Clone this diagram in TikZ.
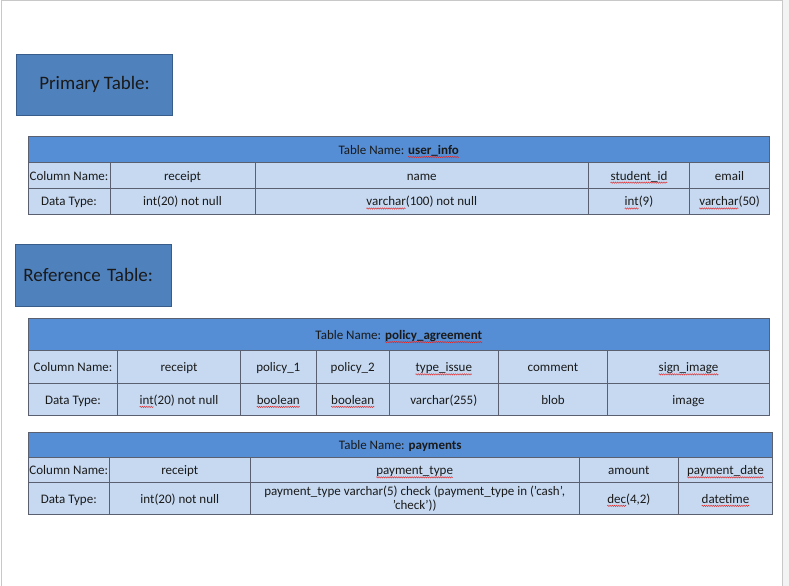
\documentclass[tikz,border=0pt]{standalone}
\usepackage{fontspec}
\setmainfont{Carlito}
\usetikzlibrary{decorations.pathmorphing}

\definecolor{boxblue}{HTML}{4F81BD}
\definecolor{boxedge}{HTML}{385D8A}
\definecolor{hdrblue}{HTML}{558ED5}
\definecolor{cellblue}{HTML}{C6D9F1}
\definecolor{gridline}{HTML}{5A6070}
\definecolor{pageedge}{HTML}{C8C8C8}
\definecolor{pageside}{HTML}{F3F3F3}
\definecolor{spellred}{HTML}{E02828}
\definecolor{inktext}{HTML}{1A1A1A}

% red wavy spell-check mark under a word
\newcommand{\sqw}[1]{\begingroup\setbox0=\hbox{#1}\edef\sqlen{\the\wd0}%
  \hbox to \wd0{\usebox0\hskip-\wd0
    \tikz[overlay,baseline=0pt]\draw[spellred,line width=0.45bp,decorate,
      decoration={zigzag,amplitude=0.7bp,segment length=2.2bp}]
      (0bp,-2.6bp) -- (\sqlen,-2.6bp);\hss}\endgroup}

% table cell: style, name, x1, x2, y1, y2, text
\newcommand{\tcell}[7]{%
  \node[#1, minimum width={(#4-#3)*1bp}, minimum height={(#6-#5)*1bp}]
    (#2) at ({(#3+#4)/2},{(#5+#6)/2}) {#7};}

\tikzset{
  labelbox/.style={fill=boxblue, draw=boxedge, line width=1bp, text=inktext,
    font=\fontsize{19bp}{22bp}\selectfont},
  hdrcell/.style={fill=hdrblue, draw=gridline, line width=0.9bp, inner sep=0pt,
    text=inktext, text height=10.5bp, text depth=0.5bp,
    font=\fontsize{13bp}{14.5bp}\selectfont},
  cellbase/.style={fill=cellblue, draw=gridline, line width=0.9bp, inner sep=0pt,
    align=center, text=inktext, font=\fontsize{13bp}{14.5bp}\selectfont},
  cell/.style={cellbase, text height=10.5bp, text depth=1bp},
}

\begin{document}
\begin{tikzpicture}[x=1bp, y=-1bp]
\useasboundingbox (0,0) rectangle (789,586);

% page edges
\fill[pageside] (782,0) rectangle (789,586);
\draw[pageedge, line width=1bp] (1.5,586) -- (1.5,0.5) -- (782.5,0.5) -- (782.5,586);

% section labels
\node[labelbox, minimum width=156bp, minimum height=61bp] (primary) at (94.5,84.8) {Primary Table:};
\node[labelbox, minimum width=156bp, minimum height=62bp, text width=140bp,
  inner xsep=8bp, align=left] (reference) at (93.5,275.5) {\raisebox{2bp}{Reference Table:}};

% table user_info
\tcell{hdrcell}{ui-head}{28}{769.5}{136.5}{162.3}{Table Name: \textbf{\sqw{user\_info}}}
\tcell{cell}{ui-lab1}{28}{110}{162.3}{188.3}{Column Name:}
\tcell{cell}{ui-c1}{110}{255}{162.3}{188.3}{receipt}
\tcell{cell}{ui-c2}{255}{588.5}{162.3}{188.3}{name}
\tcell{cell}{ui-c3}{588.5}{689.5}{162.3}{188.3}{\sqw{student\_id}}
\tcell{cell}{ui-c4}{689.5}{769.5}{162.3}{188.3}{email}
\tcell{cell}{ui-lab2}{28}{110}{188.3}{214}{Data Type:}
\tcell{cell}{ui-t1}{110}{255}{188.3}{214}{int(20) not null}
\tcell{cell}{ui-t2}{255}{588.5}{188.3}{214}{\sqw{varchar}(100) not null}
\tcell{cell}{ui-t3}{588.5}{689.5}{188.3}{214}{\sqw{int}(9)}
\tcell{cell}{ui-t4}{689.5}{769.5}{188.3}{214}{\sqw{varchar}(50)}

% table policy_agreement
\tcell{hdrcell}{pa-head}{28.3}{769.3}{318.3}{350.7}{Table Name: \textbf{\sqw{policy\_agreement}}}
\tcell{cell}{pa-lab1}{28.3}{117.7}{350.7}{383.3}{Column Name:}
\tcell{cell}{pa-c1}{117.7}{240.3}{350.7}{383.3}{receipt}
\tcell{cell}{pa-c2}{240.3}{316.3}{350.7}{383.3}{policy\_1}
\tcell{cell}{pa-c3}{316.3}{389.2}{350.7}{383.3}{policy\_2}
\tcell{cell}{pa-c4}{389.2}{498.3}{350.7}{383.3}{\sqw{type\_issue}}
\tcell{cell}{pa-c5}{498.3}{607.7}{350.7}{383.3}{comment}
\tcell{cell}{pa-c6}{607.7}{769.3}{350.7}{383.3}{\sqw{sign\_image}}
\tcell{cell}{pa-lab2}{28.3}{117.7}{383.3}{415.8}{Data Type:}
\tcell{cell}{pa-t1}{117.7}{240.3}{383.3}{415.8}{\sqw{int}(20) not null}
\tcell{cell}{pa-t2}{240.3}{316.3}{383.3}{415.8}{\sqw{boolean}}
\tcell{cell}{pa-t3}{316.3}{389.2}{383.3}{415.8}{\sqw{boolean}}
\tcell{cell}{pa-t4}{389.2}{498.3}{383.3}{415.8}{varchar(255)}
\tcell{cell}{pa-t5}{498.3}{607.7}{383.3}{415.8}{blob}
\tcell{cell}{pa-t6}{607.7}{769.3}{383.3}{415.8}{image}

% table payments
\tcell{hdrcell}{pm-head}{28.3}{772.3}{432.3}{457.3}{Table Name: \textbf{payments}}
\tcell{cell}{pm-lab1}{28.3}{109.3}{457.3}{482.7}{Column Name:}
\tcell{cell}{pm-c1}{109.3}{250.3}{457.3}{482.7}{receipt}
\tcell{cell}{pm-c2}{250.3}{579}{457.3}{482.7}{\sqw{payment\_type}}
\tcell{cell}{pm-c3}{579}{678.7}{457.3}{482.7}{amount}
\tcell{cell}{pm-c4}{678.7}{772.3}{457.3}{482.7}{\sqw{payment\_date}}
\tcell{cell}{pm-lab2}{28.3}{109.3}{482.7}{514.3}{Data Type:}
\tcell{cell}{pm-t1}{109.3}{250.3}{482.7}{514.3}{int(20) not null}
\tcell{cellbase}{pm-t2}{250.3}{579}{482.7}{514.3}{payment\_type varchar(5) check (payment\_type in ('cash',\\ 'check'))}
\tcell{cell}{pm-t3}{579}{678.7}{482.7}{514.3}{\sqw{dec}(4,2)}
\tcell{cell}{pm-t4}{678.7}{772.3}{482.7}{514.3}{\sqw{datetime}}
\end{tikzpicture}
\end{document}
